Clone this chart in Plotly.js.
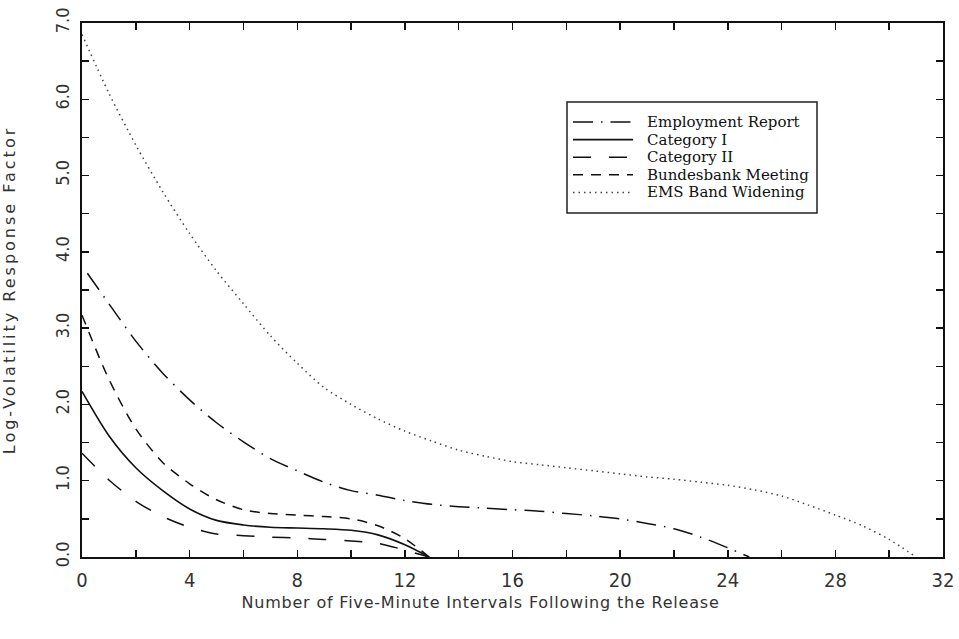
<!DOCTYPE html>
<html>
<head>
<meta charset="utf-8">
<script src="https://cdn.plot.ly/plotly-3.0.1.min.js"></script>
<style>
html,body{margin:0;padding:0;background:#fff;}
#chart{width:959px;height:639px;}
#chart .ytitle{letter-spacing:3px;}
#chart .xtitle{letter-spacing:0.8px;transform:translate(-32px,0px);}
</style>
</head>
<body>
<div id="chart"></div>
<script>
// Series names (legend order)
const seriesNames = ["Employment Report", "Category I", "Category II", "Bundesbank Meeting", "EMS Band Widening"];

// Employment Report (dash-dot)
const xEmployment = [0.2, 1, 2, 3, 4, 5, 6, 7, 8, 9, 10, 11, 12, 13, 14, 15, 16, 17, 18, 19, 20, 21, 22, 23, 24, 24.8];
const yEmployment = [3.72, 3.32, 2.83, 2.41, 2.06, 1.76, 1.51, 1.29, 1.13, 0.98, 0.87, 0.81, 0.74, 0.69, 0.66, 0.64, 0.62, 0.60, 0.57, 0.54, 0.50, 0.44, 0.37, 0.26, 0.12, 0.0];

// Category I (solid)
const xCat1 = [0, 1, 2, 3, 4, 5, 6, 7, 8, 9, 10, 11, 12, 12.9];
const yCat1 = [2.17, 1.59, 1.17, 0.87, 0.63, 0.48, 0.42, 0.39, 0.38, 0.37, 0.35, 0.29, 0.16, 0.0];

// Category II (long dash)
const xCat2 = [0, 1, 2, 3, 4, 5, 6, 7, 8, 9, 10, 11, 12, 12.9];
const yCat2 = [1.36, 1.01, 0.73, 0.53, 0.39, 0.30, 0.28, 0.26, 0.25, 0.23, 0.21, 0.18, 0.09, 0.0];

// Bundesbank Meeting (short dash)
const xBund = [0, 1, 2, 3, 4, 5, 6, 7, 8, 9, 10, 11, 12, 12.9];
const yBund = [3.17, 2.33, 1.68, 1.24, 0.96, 0.75, 0.62, 0.57, 0.55, 0.53, 0.50, 0.41, 0.24, 0.0];

// EMS Band Widening (dotted)
const xEms = [0, 1, 2, 3, 4, 5, 6, 7, 8, 9, 10, 11, 12, 13, 14, 15, 16, 17, 18, 19, 20, 21, 22, 23, 24, 25, 26, 27, 28, 29, 30, 31];
const yEms = [6.85, 6.08, 5.40, 4.79, 4.24, 3.75, 3.32, 2.90, 2.54, 2.22, 2.00, 1.81, 1.65, 1.52, 1.40, 1.32, 1.25, 1.21, 1.17, 1.13, 1.09, 1.05, 1.02, 0.98, 0.94, 0.88, 0.80, 0.68, 0.55, 0.41, 0.23, 0.0];

// Tick values / labels
const xTickVals = [0, 4, 8, 12, 16, 20, 24, 28, 32];
const xTickText = ["0", "4", "8", "12", "16", "20", "24", "28", "32"];
const yTickVals = [0, 1, 2, 3, 4, 5, 6, 7];
const yTickText = ["0.0", "1.0", "2.0", "3.0", "4.0", "5.0", "6.0", "7.0"];

// ---- styling (kept apart from the data) ----
const seriesX = [xEmployment, xCat1, xCat2, xBund, xEms];
const seriesY = [yEmployment, yCat1, yCat2, yBund, yEms];
const seriesStyle = [
  {dash: '20px,8px,1.5px,8px', width: 1.5, color: '#111'},
  {dash: 'solid', width: 1.6, color: '#111'},
  {dash: '18px,18px', width: 1.5, color: '#111'},
  {dash: '10px,8px', width: 1.5, color: '#111'},
  {dash: '1.5px,4px', width: 1.5, color: '#444'}
];

const W = 959, H = 639;
const M = {l: 82, r: 16, t: 23, b: 82};
const PW = W - M.l - M.r, PH = H - M.t - M.b;
const toPaperX = p => (p - M.l) / PW;
const toPaperY = p => (H - M.b - p) / PH;

const tickFont = "'Liberation Sans Narrow', 'DejaVu Sans Condensed', 'Liberation Sans', sans-serif";
const titleFont = "'DejaVu Sans', 'Liberation Sans', sans-serif";
const legendFont = "'DejaVu Serif', serif";

const data = seriesNames.map((name, i) => ({
  x: seriesX[i], y: seriesY[i], name: name, type: 'scatter', mode: 'lines',
  showlegend: false,
  line: {color: seriesStyle[i].color, width: seriesStyle[i].width, dash: seriesStyle[i].dash, shape: 'spline', smoothing: 0.8}
}));

// Boxed key in the upper right, drawn with shapes + annotations
const key = {left: 567, right: 817, top: 102, bottom: 213, row0: 122, rowGap: 17.6, lineX0: 573, lineX1: 633, textX: 645};
const shapes = [{
  type: 'rect', xref: 'paper', yref: 'paper',
  x0: toPaperX(key.left), x1: toPaperX(key.right), y0: toPaperY(key.bottom), y1: toPaperY(key.top),
  fillcolor: '#fff', line: {color: '#222', width: 1.5}, layer: 'above'
}];
const annotations = [];
seriesNames.forEach((name, i) => {
  const ry = toPaperY(key.row0 + i * key.rowGap);
  shapes.push({
    type: 'line', xref: 'paper', yref: 'paper',
    x0: toPaperX(key.lineX0), x1: toPaperX(key.lineX1), y0: ry, y1: ry,
    line: {color: seriesStyle[i].color, width: seriesStyle[i].width, dash: seriesStyle[i].dash}, layer: 'above'
  });
  annotations.push({
    text: name, xref: 'paper', yref: 'paper', x: toPaperX(key.textX), y: ry,
    xanchor: 'left', yanchor: 'middle', showarrow: false,
    font: {family: legendFont, size: 15, color: '#111'}
  });
});

const layout = {
  width: W, height: H,
  margin: M,
  paper_bgcolor: '#fff', plot_bgcolor: '#fff',
  showlegend: false,
  shapes: shapes,
  annotations: annotations,
  xaxis: {
    range: [0, 32], autorange: false,
    tickmode: 'array', tickvals: xTickVals, ticktext: xTickText,
    ticks: 'inside', ticklen: 7, tickwidth: 1.5, tickcolor: '#111',
    minor: {tickmode: 'linear', tick0: 0, dtick: 2, ticks: 'inside', ticklen: 7, tickwidth: 1.5, tickcolor: '#111', showgrid: false},
    showline: true, linecolor: '#111', linewidth: 2, mirror: 'allticks',
    showgrid: false, zeroline: false,
    tickfont: {family: tickFont, size: 20, color: '#333'},
    ticklabelstandoff: 4,
    title: {text: 'Number of Five-Minute Intervals Following the Release',
            font: {family: titleFont, size: 16, color: '#333'}, standoff: 6},
    automargin: false
  },
  yaxis: {
    range: [0, 7], autorange: false,
    tickmode: 'array', tickvals: yTickVals, ticktext: yTickText,
    tickangle: -90,
    ticks: 'inside', ticklen: 7, tickwidth: 1.5, tickcolor: '#111',
    minor: {tickmode: 'linear', tick0: 0, dtick: 0.5, ticks: 'inside', ticklen: 7, tickwidth: 1.5, tickcolor: '#111', showgrid: false},
    showline: true, linecolor: '#111', linewidth: 2, mirror: 'allticks',
    showgrid: false, zeroline: false,
    tickfont: {family: tickFont, size: 18, color: '#333'},
    ticklabelstandoff: 4,
    title: {text: 'Log-Volatility Response Factor',
            font: {family: titleFont, size: 16, color: '#333'}, standoff: 33},
    automargin: false
  }
};

Plotly.newPlot('chart', data, layout, {displayModeBar: false, staticPlot: true});
</script>
</body>
</html>
